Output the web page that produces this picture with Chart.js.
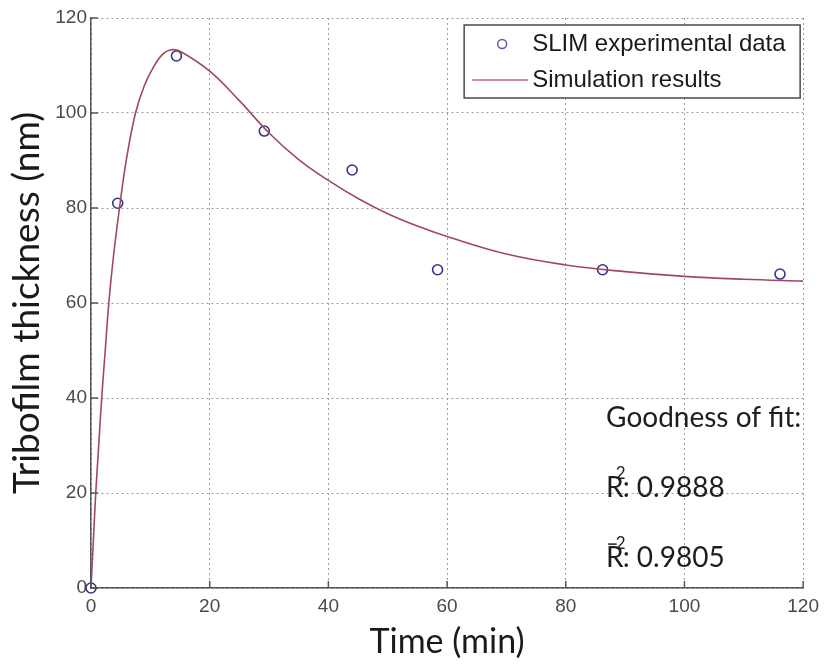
<!DOCTYPE html>
<html>
<head>
<meta charset="utf-8">
<script src="https://cdn.jsdelivr.net/npm/chart.js@4.4.1/dist/chart.umd.min.js"></script>
<style>
  html, body { margin: 0; padding: 0; background: #fff; }
  canvas { display: block; }
</style>
</head>
<body>
<canvas id="tribofilmChart" width="826" height="666"></canvas>
<script>
// measured points (SLIM)
const expTime = [0, 4.5, 14.4, 29.2, 44, 58.4, 86.2, 116.1];
const expThickness = [0, 81, 112, 96.2, 88, 67, 67, 66.1];

// simulation curve
const simTime = [0, 0.4, 0.8, 1.3, 1.8, 2.4, 3, 3.8, 4.8, 6, 7.5, 9, 10.5, 12, 13.5, 15, 20, 25, 30, 35, 40, 45, 50, 55, 60, 70, 80, 90, 100, 110, 120];
const simThickness = [0, 10, 20, 30, 40, 50, 60, 70, 80, 90.5, 100, 105.8, 109.6, 112.3, 113.3, 113, 108.8, 102.6, 95.8, 90.2, 85.8, 82, 78.8, 76.2, 74, 70.3, 68, 66.6, 65.6, 65, 64.6];

const xTicks = [0, 20, 40, 60, 80, 100, 120];
const yTicks = [0, 20, 40, 60, 80, 100, 120];

const seriesLabels = ['SLIM experimental data', 'Simulation results'];
const fitLines = ['Goodness of fit:', '0.9888', '0.9805'];

const pointColor = '#34348c';
const curveColor = '#a2485c';
const axisColor = '#555555';
const tickColor = '#4a4a4a';
const textFont = 'Lato, "Open Sans", sans-serif';

const toXY = (xs, ys) => xs.map((v, i) => ({ x: v, y: ys[i] }));

// inward ticks, boxed legend and the fit text
const overlay = {
  id: 'overlay',
  afterDatasetsDraw(chart) {
    const { ctx, chartArea: area, scales: { x, y } } = chart;
    ctx.save();

    ctx.strokeStyle = axisColor;
    ctx.lineWidth = 1.5;
    ctx.beginPath();
    xTicks.forEach(v => {
      const px = x.getPixelForValue(v);
      ctx.moveTo(px, area.bottom);
      ctx.lineTo(px, area.bottom - 7);
    });
    yTicks.forEach(v => {
      const py = y.getPixelForValue(v);
      ctx.moveTo(area.left, py);
      ctx.lineTo(area.left + 7, py);
    });
    ctx.stroke();

    // legend box
    const bx = area.right - 339, by = area.top + 7, bw = 336, bh = 73;
    ctx.fillStyle = '#fff';
    ctx.fillRect(bx, by, bw, bh);
    ctx.strokeStyle = '#4a4a4a';
    ctx.lineWidth = 1.5;
    ctx.strokeRect(bx, by, bw, bh);

    const ds = chart.data.datasets;
    ctx.font = '24px "Liberation Sans", Arial, sans-serif';
    ctx.fillStyle = '#1a1a1a';
    ctx.textBaseline = 'middle';
    ctx.textAlign = 'left';

    ctx.beginPath();
    ctx.arc(bx + 38, by + 19, 4.5, 0, Math.PI * 2);
    ctx.strokeStyle = '#5a5aa8';
    ctx.lineWidth = 1.5;
    ctx.stroke();
    ctx.fillText(ds[0].label, bx + 68, by + 19);

    ctx.beginPath();
    ctx.moveTo(bx + 8, by + 55);
    ctx.lineTo(bx + 64, by + 55);
    ctx.strokeStyle = '#c46a7c';
    ctx.lineWidth = 1.5;
    ctx.stroke();
    ctx.fillText(ds[1].label, bx + 68, by + 55);

    // goodness of fit
    const tx = x.getPixelForValue(86.8);
    ctx.fillStyle = '#1e1e1e';
    ctx.textBaseline = 'alphabetic';
    ctx.font = '28px ' + textFont;
    ctx.fillText(fitLines[0], tx, y.getPixelForValue(33.9));

    const rows = [[fitLines[1], y.getPixelForValue(19.2), false], [fitLines[2], y.getPixelForValue(4.4), true]];
    rows.forEach(([val, base, bar]) => {
      ctx.font = '28px ' + textFont;
      ctx.fillText('R', tx, base);
      const rw = ctx.measureText('R').width;
      ctx.fillText(': ' + val, tx + rw - 1, base);
      ctx.font = '17px ' + textFont;
      ctx.fillText('2', tx + rw - 8, base - 18);
      if (bar) {
        ctx.beginPath();
        ctx.moveTo(tx + 2, base - 23);
        ctx.lineTo(tx + rw - 7, base - 23);
        ctx.strokeStyle = '#1e1e1e';
        ctx.lineWidth = 1.5;
        ctx.stroke();
      }
    });

    ctx.restore();
  }
};

const ctx = document.getElementById('tribofilmChart').getContext('2d');

new Chart(ctx, {
  type: 'scatter',
  data: {
    datasets: [{
      label: seriesLabels[0],
      data: toXY(expTime, expThickness),
      pointStyle: 'circle',
      pointRadius: 5,
      pointBorderWidth: 1.6,
      pointBorderColor: pointColor,
      pointBackgroundColor: 'rgba(0,0,0,0)',
      showLine: false,
      clip: false,
      order: 2
    }, {
      type: 'line',
      label: seriesLabels[1],
      data: toXY(simTime, simThickness),
      borderColor: curveColor,
      borderWidth: 1.6,
      pointRadius: 0,
      fill: false,
      tension: 0.4,
      order: 1
    }]
  },
  options: {
    responsive: false,
    animation: false,
    layout: { padding: { top: 18, right: 20, bottom: 0, left: 0 } },
    plugins: {
      legend: { display: false },
      tooltip: { enabled: false }
    },
    scales: {
      x: {
        type: 'linear',
        min: 0,
        max: 120,
        afterBuildTicks: scale => { scale.ticks = xTicks.map(v => ({ value: v })); },
        afterFit: scale => { scale.height = 78; },
        grid: { color: '#9a9a9a', lineWidth: 1, drawTicks: false },
        border: { display: true, color: axisColor, width: 1.5, dash: [2, 3] },
        ticks: { color: tickColor, padding: 7, font: { family: '"Liberation Sans", Arial, sans-serif', size: 19 } },
        title: {
          display: true,
          text: 'Time (min)',
          color: '#1a1a1a',
          font: { family: textFont, size: 34 },
          padding: { top: 0, bottom: 4 }
        }
      },
      y: {
        type: 'linear',
        min: 0,
        max: 120,
        afterBuildTicks: scale => { scale.ticks = yTicks.map(v => ({ value: v })); },
        afterFit: scale => { scale.width = 91; },
        grid: { color: '#9a9a9a', lineWidth: 1, drawTicks: false },
        border: { display: true, color: axisColor, width: 1.5, dash: [2, 3] },
        ticks: { color: tickColor, padding: 4, font: { family: '"Liberation Sans", Arial, sans-serif', size: 19 } },
        title: {
          display: true,
          text: 'Tribofilm thickness (nm)',
          color: '#1a1a1a',
          font: { family: textFont, size: 37 },
          padding: { top: 5, bottom: 0 }
        }
      }
    }
  },
  plugins: [overlay]
});
</script>
</body>
</html>
